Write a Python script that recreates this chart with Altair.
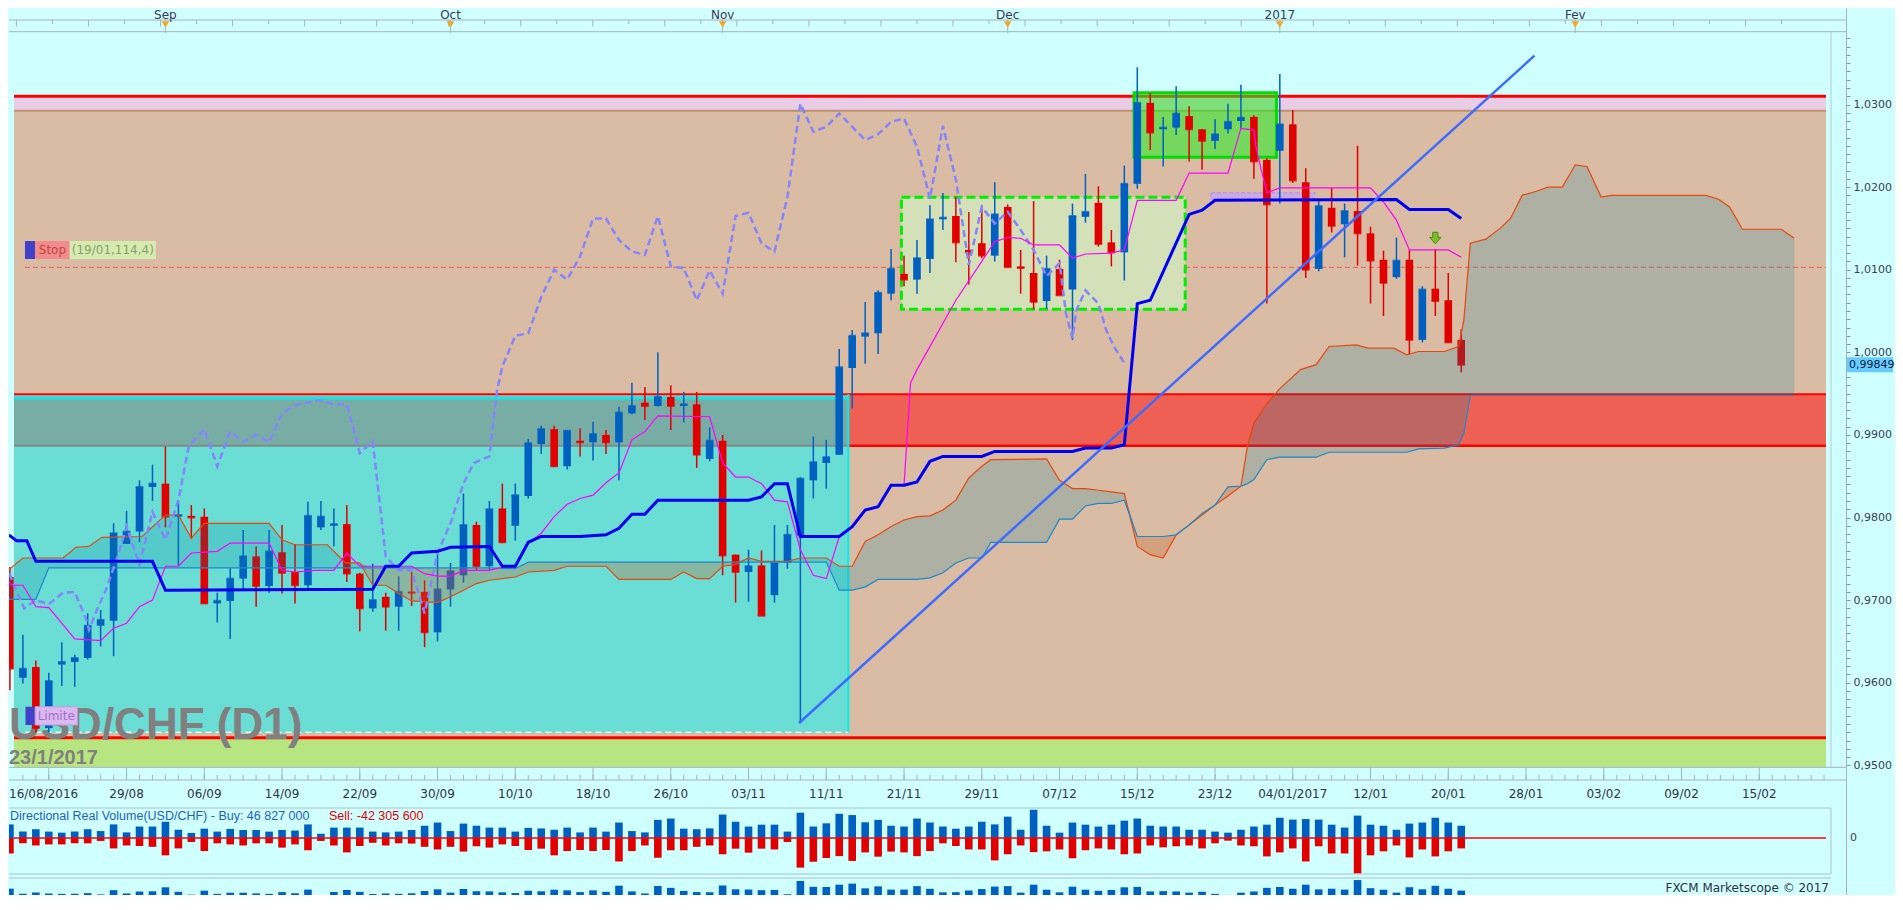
import altair as alt
import pandas as pd

# ---------------- data ----------------
# bar index: 0 = 29/08/2016, one step per trading day, 103 = 23/01/2017
bar_idx = list(range(-9, 104))
opens = [0.9728, 0.9606, 0.9619, 0.9545, 0.9622, 0.9625, 0.9630, 0.9669, 0.9675,
         0.9768, 0.9783, 0.9837, 0.9841, 0.9801, 0.9802, 0.9801, 0.9696, 0.9699, 0.9726,
         0.9753, 0.9717, 0.9758, 0.9734, 0.9718, 0.9788, 0.9790, 0.9792, 0.9732, 0.9690,
         0.9704, 0.9692, 0.9710, 0.9710, 0.9661, 0.9713, 0.9730, 0.9791, 0.9741, 0.9811,
         0.9790, 0.9826, 0.9889, 0.9907, 0.9862, 0.9893, 0.9891, 0.9900, 0.9891, 0.9926,
         0.9939, 0.9935, 0.9946, 0.9935, 0.9937, 0.9871, 0.9893, 0.9755, 0.9734, 0.9742,
         0.9706, 0.9745, 0.9778, 0.9845, 0.9866, 0.9876, 0.9981, 1.0019, 1.0023, 1.0071,
         1.0095, 1.0088, 1.0113, 1.0161, 1.0165, 1.0124, 1.0132, 1.0117, 1.0176, 1.0104,
         1.0096, 1.0062, 1.0101, 1.0076, 1.0164, 1.0181, 1.0133, 1.0121, 1.0204, 1.0302,
         1.0270, 1.0272, 1.0286, 1.0270, 1.0256, 1.0270, 1.0280, 1.0285, 1.0233, 1.0244,
         1.0276, 1.0206, 1.0101, 1.0175, 1.0155, 1.0171, 1.0144, 1.0112, 1.0091, 1.0112,
         1.0015, 1.0077, 1.0063, 1.0015]
highs = [0.9740, 0.9658, 0.9627, 0.9612, 0.9649, 0.9634, 0.9684, 0.9688, 0.9793,
         0.9808, 0.9845, 0.9864, 0.9886, 0.9820, 0.9815, 0.9811, 0.9709, 0.9739, 0.9785,
         0.9765, 0.9785, 0.9791, 0.9768, 0.9819, 0.9820, 0.9811, 0.9815, 0.9733, 0.9744,
         0.9709, 0.9729, 0.9736, 0.9724, 0.9757, 0.9745, 0.9829, 0.9795, 0.9820, 0.9841,
         0.9841, 0.9895, 0.9911, 0.9911, 0.9906, 0.9908, 0.9916, 0.9906, 0.9934, 0.9963,
         0.9958, 1.0000, 0.9960, 0.9952, 0.9952, 0.9909, 0.9900, 0.9755, 0.9761, 0.9760,
         0.9791, 0.9791, 0.9849, 0.9898, 0.9894, 1.0004, 1.0027, 1.0061, 1.0075, 1.0125,
         1.0117, 1.0136, 1.0178, 1.0193, 1.0188, 1.0170, 1.0178, 1.0206, 1.0179, 1.0124,
         1.0183, 1.0117, 1.0112, 1.0180, 1.0216, 1.0201, 1.0148, 1.0226, 1.0345, 1.0314,
         1.0285, 1.0322, 1.0298, 1.0270, 1.0282, 1.0301, 1.0324, 1.0287, 1.0235, 1.0337,
         1.0293, 1.0223, 1.0184, 1.0199, 1.0180, 1.0250, 1.0152, 1.0123, 1.0139, 1.0124,
         1.0080, 1.0125, 1.0096, 1.0028]
lows = [0.9591, 0.9599, 0.9540, 0.9540, 0.9596, 0.9595, 0.9628, 0.9644, 0.9632,
        0.9768, 0.9770, 0.9820, 0.9788, 0.9742, 0.9774, 0.9696, 0.9673, 0.9653, 0.9713,
        0.9692, 0.9709, 0.9708, 0.9696, 0.9713, 0.9785, 0.9765, 0.9722, 0.9662, 0.9686,
        0.9663, 0.9663, 0.9693, 0.9643, 0.9650, 0.9692, 0.9721, 0.9736, 0.9736, 0.9769,
        0.9772, 0.9823, 0.9877, 0.9861, 0.9858, 0.9874, 0.9869, 0.9877, 0.9845, 0.9925,
        0.9918, 0.9934, 0.9906, 0.9915, 0.9860, 0.9868, 0.9730, 0.9697, 0.9698, 0.9681,
        0.9697, 0.9738, 0.9552, 0.9823, 0.9835, 0.9876, 0.9932, 0.9986, 0.9998, 1.0063,
        1.0080, 1.0071, 1.0096, 1.0148, 1.0109, 1.0082, 1.0114, 1.0110, 1.0103, 1.0071,
        1.0052, 1.0052, 1.0069, 1.0015, 1.0157, 1.0128, 1.0104, 1.0087, 1.0198, 1.0245,
        1.0225, 1.0263, 1.0231, 1.0221, 1.0246, 1.0265, 1.0271, 1.0210, 1.0059, 1.0180,
        1.0205, 1.0090, 1.0098, 1.0145, 1.0115, 1.0105, 1.0059, 1.0044, 1.0089, 0.9998,
        1.0012, 1.0044, 1.0012, 0.9976]
closes = [0.9617, 0.9617, 0.9545, 0.9602, 0.9625, 0.9630, 0.9669, 0.9676, 0.9781,
          0.9783, 0.9837, 0.9841, 0.9801, 0.9803, 0.9800, 0.9696, 0.9699, 0.9726, 0.9753,
          0.9717, 0.9759, 0.9733, 0.9718, 0.9802, 0.9801, 0.9792, 0.9732, 0.9690, 0.9700,
          0.9692, 0.9710, 0.9709, 0.9661, 0.9713, 0.9735, 0.9791, 0.9741, 0.9810, 0.9770,
          0.9827, 0.9890, 0.9907, 0.9862, 0.9905, 0.9891, 0.9901, 0.9891, 0.9927, 0.9935,
          0.9935, 0.9946, 0.9935, 0.9937, 0.9876, 0.9893, 0.9754, 0.9734, 0.9741, 0.9681,
          0.9745, 0.9779, 0.9847, 0.9867, 0.9873, 0.9982, 1.0020, 1.0023, 1.0072, 1.0101,
          1.0088, 1.0114, 1.0161, 1.0163, 1.0133, 1.0121, 1.0117, 1.0167, 1.0103, 1.0102,
          1.0061, 1.0101, 1.0069, 1.0165, 1.0170, 1.0131, 1.0121, 1.0204, 1.0302, 1.0266,
          1.0272, 1.0289, 1.0270, 1.0256, 1.0264, 1.0279, 1.0284, 1.0231, 1.0179, 1.0276,
          1.0208, 1.0100, 1.0177, 1.0153, 1.0171, 1.0144, 1.0111, 1.0084, 1.0111, 1.0015,
          1.0076, 1.0062, 1.0012, 0.99849]

# directional real volume, millions (buy up, sell down)
buy_vol = [51, 24, 33, 24, 20, 24, 33, 26, 51,
           21, 43, 43, 61, 31, 19, 35, 24, 34, 30,
           30, 24, 30, 28, 51, 16, 39, 39, 39, 24,
           21, 24, 30, 46, 58, 26, 54, 46, 39, 39,
           24, 38, 36, 31, 39, 21, 39, 24, 58, 26,
           21, 68, 73, 35, 33, 36, 88, 61, 43, 50,
           50, 24, 95, 43, 55, 91, 86, 59, 68, 46,
           43, 73, 58, 43, 35, 43, 61, 51, 80, 31,
           106, 46, 20, 58, 50, 43, 50, 65, 73, 46,
           43, 43, 31, 31, 24, 20, 31, 43, 50, 76,
           69, 71, 69, 50, 39, 84, 50, 46, 31, 54,
           58, 76, 58, 46]
sell_vol = [-58, -20, -28, -24, -24, -20, -20, -11, -39,
            -28, -30, -33, -65, -39, -15, -49, -20, -24, -28,
            -20, -20, -36, -24, -46, -11, -28, -54, -30, -18,
            -28, -20, -21, -33, -43, -33, -51, -31, -36, -24,
            -30, -45, -40, -65, -49, -45, -49, -45, -88, -49,
            -28, -74, -46, -46, -33, -28, -61, -40, -55, -40,
            -43, -15, -111, -89, -75, -68, -86, -54, -70, -51,
            -54, -68, -49, -20, -30, -43, -43, -84, -61, -28,
            -53, -50, -43, -76, -46, -39, -43, -61, -58, -28,
            -35, -31, -28, -39, -20, -10, -28, -31, -69, -54,
            -39, -88, -31, -58, -58, -133, -65, -50, -28, -73,
            -43, -69, -50, -39]

# Ichimoku, vertices (bar index, price)
tenkan_i = [-9.3, -8.9, -8, -7, -6, -4, -2, -1, 0, 1, 2, 3, 4, 5, 7, 8, 11, 12, 13, 14.5,
            16, 17, 18, 22, 23, 24, 25, 26, 28, 29, 30, 31, 32, 33, 34, 35, 36, 37, 38, 39,
            40, 41, 45, 46, 47, 48, 49, 50, 51, 52, 53, 54, 55, 56, 57, 58, 59, 60, 60.5, 61,
            64, 66, 67, 68, 69, 70, 72, 73, 74, 76, 77, 78, 81, 82, 85, 86, 87, 87.2, 88, 89,
            96, 97, 98, 99, 102, 103]
tenkan_p = [0.9728, 0.9718, 0.9718, 0.9692, 0.9691, 0.9653, 0.9651, 0.9666, 0.9672, 0.9692,
            0.9700, 0.9741, 0.9741, 0.9757, 0.9759, 0.9769, 0.9769, 0.9736, 0.9734, 0.9736,
            0.9736, 0.9757, 0.9741, 0.9741, 0.9732, 0.9729, 0.9729, 0.9736, 0.9736, 0.9740,
            0.9740, 0.9769, 0.9781, 0.9801, 0.9816, 0.9823, 0.9827, 0.9842, 0.9854, 0.9894,
            0.9904, 0.9923, 0.9922, 0.9866, 0.9849, 0.9849, 0.9841, 0.9821, 0.9819, 0.9761,
            0.9730, 0.9726, 0.9777, 0.9789, 0.9809, 0.9813, 0.9839, 0.9839, 0.9963, 0.9979,
            1.0063, 1.0110, 1.0134, 1.0139, 1.0138, 1.0130, 1.0130, 1.0114, 1.0119, 1.0120,
            1.0124, 1.0184, 1.0184, 1.0217, 1.0217, 1.0271, 1.0269, 1.0245, 1.0193, 1.0199,
            1.0199, 1.0182, 1.0160, 1.0124, 1.0124, 1.0115]
kijun_i = [-9.3, -9, -8.5, -7.7, -7, 2, 3, 19, 20, 21, 22, 24, 25, 28, 29, 30, 31, 32, 35, 37,
           38, 39, 40, 41, 48, 49, 50, 51, 52, 55, 56, 57, 58, 59, 60, 61, 62, 63, 66, 67,
           73, 74, 76, 77, 78, 79, 82, 83, 84, 98, 99, 102, 103]
kijun_p = [0.9778, 0.9778, 0.9772, 0.9772, 0.9747, 0.9747, 0.9712, 0.9713, 0.9741, 0.9741,
           0.9757, 0.9759, 0.9764, 0.9765, 0.9741, 0.9741, 0.9770, 0.9777, 0.9777, 0.9779,
           0.9787, 0.9804, 0.9804, 0.9821, 0.9821, 0.9825, 0.9841, 0.9841, 0.9777, 0.9777,
           0.9789, 0.9809, 0.9813, 0.9839, 0.9839, 0.9843, 0.9868, 0.9874, 0.9874, 0.9880,
           0.9880, 0.9884, 0.9884, 0.9888, 1.0059, 1.0063, 1.0167, 1.0172, 1.0184, 1.0185,
           1.0173, 1.0173, 1.0162]
chikou_i = [-9.3, -8.8, -7.9, -7, -6, -4.9, -4, -3.1, -2.9, -2.4, -1.6, -0.6, 0, 1, 2, 3, 4,
            4.8, 6, 7, 8, 9, 10, 11, 12, 13, 14.8, 16, 17, 18, 19, 20, 21, 22, 23, 24, 25,
            26, 26.8, 28, 28.6, 29, 30, 31, 32, 33, 34, 35, 36, 37, 38, 39, 40, 41, 42, 43,
            44, 45, 46, 47, 48, 49, 50, 51, 52, 53, 54, 55, 57, 58, 59, 60, 61, 62, 63, 64,
            65, 66, 67, 68, 69, 70, 71, 72, 72.5, 73, 73.3, 74, 75, 75.6, 76.2, 77]
chikou_p = [0.9745, 0.9722, 0.9690, 0.9700, 0.9695, 0.9709, 0.9710, 0.9676, 0.9664, 0.9684,
            0.9712, 0.9757, 0.9789, 0.9743, 0.9807, 0.9773, 0.9821, 0.9886, 0.9907, 0.9862,
            0.9904, 0.9892, 0.9900, 0.9891, 0.9926, 0.9936, 0.9942, 0.9937, 0.9937, 0.9878,
            0.9892, 0.9753, 0.9736, 0.9736, 0.9684, 0.9757, 0.9793, 0.9841, 0.9866, 0.9874,
            0.9954, 0.9983, 1.0020, 1.0023, 1.0067, 1.0100, 1.0088, 1.0116, 1.0162, 1.0162,
            1.0136, 1.0122, 1.0118, 1.0165, 1.0104, 1.0102, 1.0063, 1.0099, 1.0071, 1.0165,
            1.0169, 1.0132, 1.0122, 1.0188, 1.0301, 1.0267, 1.0273, 1.0289, 1.0257, 1.0264,
            1.0279, 1.0283, 1.0249, 1.0186, 1.0274, 1.0209, 1.0106, 1.0176, 1.0156, 1.0170,
            1.0148, 1.0124, 1.0092, 1.0108, 1.0047, 1.0017, 1.0051, 1.0075, 1.0059, 1.0027,
            1.0007, 0.9987]
cloud_i = [-9.3, -8, -7, -6, -4.9, -3.9, -2.9, -1.9, 1.2, 3, 4, 5, 6, 11, 12, 13, 15.5, 16.9,
           18, 19, 20, 21, 22, 24, 25, 26, 27, 28, 30, 31, 33, 34, 37, 38, 42, 43, 44, 45,
           46, 47, 48, 49, 51, 52, 54, 55, 56, 57, 58, 59, 60, 61, 62, 63, 64, 65, 66, 66.7,
           71, 72, 73, 74, 75, 76, 77, 78, 79, 80, 81, 82, 83, 84, 85, 86, 86.5, 87, 88, 89,
           90.6, 91.8, 92.8, 94.9, 95.8, 97.8, 98.8, 99.7, 101.7, 102.8, 103.2, 103.7, 104.9,
           106, 106.8, 107.7, 108.8, 109.7, 110.8, 111.8, 112.7, 113.8, 114.6, 121.9, 122.9,
           123.7, 124.7, 127.7, 128.7]
span_a = [0.9734, 0.9751, 0.9751, 0.9751, 0.9751, 0.9764, 0.9765, 0.9776, 0.9777, 0.9803,
          0.9803, 0.9775, 0.9793, 0.9793, 0.9773, 0.9767, 0.9767, 0.9745, 0.9745, 0.9718,
          0.9718, 0.9708, 0.9699, 0.9697, 0.9704, 0.9712, 0.9720, 0.9724, 0.9728, 0.9734,
          0.9736, 0.9741, 0.9741, 0.9725, 0.9725, 0.9734, 0.9726, 0.9726, 0.9741, 0.9743,
          0.9751, 0.9747, 0.9747, 0.9751, 0.9751, 0.9741, 0.9741, 0.9771, 0.9779, 0.9789,
          0.9797, 0.9801, 0.9802, 0.9809, 0.9821, 0.9848, 0.9862, 0.9870, 0.9871, 0.9845,
          0.9835, 0.9835, 0.9833, 0.9831, 0.9829, 0.9765, 0.9755, 0.9751, 0.9779, 0.9791,
          0.9803, 0.9815, 0.9826, 0.9838, 0.9886, 0.9914, 0.9938, 0.9956, 0.9979, 0.9985,
          1.0007, 1.0009, 1.0005, 1.0005, 0.9997, 1.0001, 1.0001, 1.0007, 1.0039, 1.0132,
          1.0137, 1.0150, 1.0162, 1.0190, 1.0195, 1.0200, 1.0200, 1.0227, 1.0225, 1.0188,
          1.0190, 1.0190, 1.0185, 1.0176, 1.0149, 1.0149, 1.0138]
span_b = [0.9701, 0.9701, 0.9701, 0.9739, 0.9739, 0.9739, 0.9739, 0.9739, 0.9739, 0.9739,
          0.9739, 0.9739, 0.9739, 0.9739, 0.9739, 0.9739, 0.9739, 0.9739, 0.9739, 0.9739,
          0.9739, 0.9739, 0.9739, 0.9739, 0.9739, 0.9739, 0.9739, 0.9739, 0.9738, 0.9746,
          0.9746, 0.9746, 0.9746, 0.9746, 0.9746, 0.9746, 0.9746, 0.9746, 0.9746, 0.9746,
          0.9746, 0.9746, 0.9746, 0.9746, 0.9746, 0.9712, 0.9712, 0.9716, 0.9725, 0.9725,
          0.9725, 0.9725, 0.9727, 0.9733, 0.9745, 0.9751, 0.9751, 0.9770, 0.9770, 0.9798,
          0.9798, 0.9814, 0.9817, 0.9817, 0.9821, 0.9777, 0.9777, 0.9777, 0.9779, 0.9791,
          0.9805, 0.9815, 0.9837, 0.9838, 0.9841, 0.9846, 0.9870, 0.9873, 0.9873, 0.9873,
          0.9879, 0.9879, 0.9879, 0.9879, 0.9879, 0.9883, 0.9884, 0.9888, 0.9902, 0.9948,
          0.9948, 0.9948, 0.9948, 0.9948, 0.9948, 0.9948, 0.9948, 0.9948, 0.9948, 0.9948,
          0.9948, 0.9948, 0.9948, 0.9948, 0.9948, 0.9948, 0.9948]

# trend line drawn on the chart
trend_i = [51.9, 108.65]
trend_p = [0.95512, 1.03591]

# horizontal levels / zones
resist_top, resist_base = 1.0310, 1.02925
support_line, support_low = 0.95334, 0.94976
red_zone = (0.98869, 0.99491)
cyan_box = (0.95395, 0.99491)
stop_level, limit_level = 1.01029, 0.9540
dec_box = (77.75, 88.74, 1.02361, 1.03143)
nov_box = (59.8, 81.7, 1.00521, 1.01877)
last_price = 0.99849

date_idx = [0, 6, 12, 18, 24, 30, 36, 42, 48, 54, 60, 66, 72, 78, 84, 90, 96, 102, 108, 114, 120, 126]
date_txt = ['29/08', '06/09', '14/09', '22/09', '30/09', '10/10', '18/10', '26/10', '03/11', '11/11',
            '21/11', '29/11', '07/12', '15/12', '23/12', '04/01/2017', '12/01', '20/01', '28/01',
            '03/02', '09/02', '15/02']
month_idx = [3, 25, 46, 68, 89, 111.8]
month_txt = ['Sep', 'Oct', 'Nov', 'Dec', '2017', 'Fev']

# ---------------- layout / styles ----------------
W, H = 1822, 887
X0, X1 = -8.686, 131.15
BLUE, RED = '#0060C0', '#E00000'
FONT = 'DejaVu Sans'
X = alt.Scale(domain=[X0, X1], nice=False, zero=False)
PY = alt.Scale(domain=[0.934298, 1.041683], nice=False, zero=False)
VY = alt.Scale(domain=[-213.75, 3112.5], nice=False, zero=False)
TY = alt.Scale(domain=[29.5, 11144.5], nice=False, zero=False, clamp=True)

price_ticks = [round(0.950 + 0.001 * k, 3) for k in range(89)]
PAXIS = alt.Axis(orient='right', offset=15, values=price_ticks, title=None, grid=False,
                 labelExpr="(abs(datum.value*100 - round(datum.value*100)) < 0.001 && datum.value < 1.035) ? replace(format(datum.value, '.4f'), '.', ',') : ''",
                 tickSize=4, tickColor='#8890A0', domainColor='#A8B0C0', labelFont=FONT,
                 labelFontSize=11, labelColor='#404050', labelOverlap=False, labelPadding=3)


def xq(f):
    return alt.X(f, type='quantitative', scale=X, axis=None)


def yp(f):
    return alt.Y(f, type='quantitative', scale=PY, axis=PAXIS)


def one(**cols):
    return pd.DataFrame({k: [v] for k, v in cols.items()})


def zone(x0, x1, lo, hi, fill, **kw):
    return alt.Chart(one(x0=x0, x1=x1, lo=lo, hi=hi)).mark_rect(fill=fill, **kw).encode(
        x=xq('x0'), x2='x1', y=yp('hi'), y2='lo')


def hline(v, x0, x1, color, width, **kw):
    return alt.Chart(one(x0=x0, x1=x1, v=v)).mark_rule(color=color, strokeWidth=width, **kw).encode(
        x=xq('x0'), x2='x1', y=yp('v'))


def ptext(txt, x, y, **kw):
    return alt.Chart(one(t=txt)).mark_text(**kw).encode(text='t:N', x=alt.value(x), y=alt.value(y))


def prule(y, x0, x1, color='#A8B0C0', width=1):
    return alt.Chart(one(a=0)).mark_rule(color=color, strokeWidth=width).encode(
        x=alt.value(x0), x2=alt.value(x1), y=alt.value(y))


candles = pd.DataFrame({'i': bar_idx, 'open': opens, 'high': highs, 'low': lows, 'close': closes})
vol = pd.DataFrame({'i': bar_idx, 'buy': buy_vol, 'sell': sell_vol})
cloud = pd.DataFrame({'i': cloud_i, 'a': span_a, 'b': span_b})
up = alt.condition('datum.close >= datum.open', alt.value(BLUE), alt.value(RED))

# ---------------- price panel ----------------
bands = [
    zone(X0, X1, resist_base, resist_top, '#E9CCE6'),
    zone(X0, X1, support_line, resist_base, '#D9BCA3'),
    zone(X0, X1, support_low, support_line, '#B7E57F'),
    zone(X0, 55.7, cyan_box[0], cyan_box[1], '#6ADDD5'),
    zone(X0, 55.7, red_zone[0], 0.99462, '#78ADA5'),
    zone(55.7, X1, red_zone[0], red_zone[1], '#EE6054'),
    hline(resist_top, X0, X1, '#FF0000', 3),
    hline(resist_base, X0, X1, '#C0906C', 2),
    hline(support_line, X0, X1, '#FF0000', 3),
    hline(0.99445, X0, 55.7, '#00F0F0', 2),
    hline(red_zone[1], X0, X1, '#FF0000', 2),
    hline(red_zone[0], 55.7, X1, '#FF0000', 2.5),
    hline(red_zone[0], X0, 55.7, '#808A8A', 2),
    alt.Chart(one(x=55.7, lo=cyan_box[0], hi=red_zone[1])).mark_rule(color='#00F0F0', strokeWidth=2).encode(
        x=xq('x'), y=yp('lo'), y2='hi'),
    hline(limit_level, -7.8, 55.7, '#E6F6F6', 1.5, strokeDash=[6, 4]),
    hline(stop_level, -7.84, X1, '#F05A5A', 1, strokeDash=[5, 3]),
    ptext('USD/CHF (D1)', 0, 731, font='Liberation Sans', fontSize=44, fontWeight='bold',
          color='#808080', align='left', baseline='alphabetic'),
    ptext('23/1/2017', 0, 756, font='Liberation Sans', fontSize=20, fontWeight='bold',
          color='#808080', align='left', baseline='alphabetic'),
    zone(nov_box[0], nov_box[1], nov_box[2], nov_box[3], '#D3E0B8', stroke='#00EE00',
         strokeWidth=3, strokeDash=[9, 4]),
    zone(dec_box[0], dec_box[1], dec_box[2], dec_box[3], '#22EE22', fillOpacity=0.55,
         stroke='#00DD00', strokeWidth=3),
    zone(83.7, 91.7, 1.01853, 1.01932, '#C8A8F0', fillOpacity=0.85, stroke='#B898E8',
         strokeWidth=1.5, strokeDash=[4, 2]),
]

wicks = alt.Chart(candles).mark_rule(strokeWidth=1.5, clip=True).encode(
    x=xq('i'), y=yp('low'), y2='high', color=up)
bodies = alt.Chart(candles).mark_bar(size=7.6, clip=True).encode(
    x=xq('i'), y=yp('open'), y2='close', color=up)
closes_tick = alt.Chart(candles).mark_tick(orient='horizontal', size=7.6, thickness=2, clip=True).encode(
    x=xq('i'), y=yp('close'), color=up)

bull = alt.Chart(cloud).transform_calculate(hi='max(datum.a, datum.b)').mark_area(
    color='#00849F', opacity=0.2, clip=True).encode(x=xq('i'), y=yp('hi:Q'), y2='b')
bear = alt.Chart(cloud).transform_calculate(hi='max(datum.a, datum.b)').mark_area(
    color='#CB5F2C', opacity=0.3, clip=True).encode(x=xq('i'), y=yp('hi:Q'), y2='a')
line_a = alt.Chart(cloud).mark_line(color='#E34A10', strokeWidth=1.2, clip=True).encode(
    x=xq('i'), y=yp('a'))
line_b = alt.Chart(cloud).mark_line(color='#1E88C8', strokeWidth=1.2, clip=True).encode(
    x=xq('i'), y=yp('b'))


def ichi(xs, ys, **kw):
    return alt.Chart(pd.DataFrame({'i': xs, 'p': ys})).mark_line(clip=True, **kw).encode(
        x=xq('i'), y=yp('p'))


chikou = ichi(chikou_i, chikou_p, color='#8585FF', strokeWidth=2.5, strokeDash=[7, 4])
tenkan = ichi(tenkan_i, tenkan_p, color='#FF00FF', strokeWidth=1.2)
kijun = ichi(kijun_i, kijun_p, color='#0000F0', strokeWidth=3)
trend = ichi(trend_i, trend_p, color='#3D6BFF', strokeWidth=2.5)

labels = [
    zone(-7.84, -7.05, 1.01129, 1.01347, '#4040C8'),
    zone(-7.05, -4.39, 1.01129, 1.01347, '#F38B8B'),
    zone(-4.39, 2.26, 1.01129, 1.01347, '#D5EBB0'),
    alt.Chart(one(x=-5.72, y=1.01238, t='Stop')).mark_text(font=FONT, fontSize=12, color='#C04848').encode(
        x=xq('x'), y=yp('y'), text='t:N'),
    alt.Chart(one(x=-1.06, y=1.01238, t='(19/01,114,4)')).mark_text(font=FONT, fontSize=12, color='#8AA070').encode(
        x=xq('x'), y=yp('y'), text='t:N'),
    zone(-7.8, -7.05, 0.95488, 0.95709, '#4040C8'),
    zone(-7.05, -3.8, 0.95488, 0.95709, '#DCB8F0', stroke='#C0A0E0', strokeWidth=1),
    alt.Chart(one(x=-5.43, y=0.95598, t='Limite')).mark_text(font=FONT, fontSize=12, color='#A070C8').encode(
        x=xq('x'), y=yp('y'), text='t:N'),
    alt.Chart(one(x=101, y=1.01384)).mark_point(
        shape='M-0.45,-1L0.45,-1L0.45,-0.1L1,-0.1L0,1L-1,-0.1L-0.45,-0.1Z', size=130, filled=True,
        fill='#7CC02A', stroke='#4A8A10', strokeWidth=1, opacity=1).encode(x=xq('x'), y=yp('y')),
    alt.Chart(one(p1=last_price + 0.0009, p0=last_price - 0.0009)).mark_rect(fill='#66CCFF').encode(
        x=alt.value(1838), x2=alt.value(1884), y=yp('p1'), y2='p0'),
    alt.Chart(one(p=last_price, t='0,99849')).mark_text(font=FONT, fontSize=11, color='#102040',
                                                        align='left').encode(
        x=alt.value(1840), y=yp('p'), text='t:N'),
]

price = alt.layer(*bands, wicks, bodies, closes_tick, bull, bear, line_a, line_b,
                  chikou, tenkan, kijun, trend, *labels)

# ---------------- volume panels ----------------
buy_bars = alt.Chart(vol).mark_bar(size=7.6, color=BLUE, clip=True).encode(
    x=xq('i'), y=alt.Y('buy:Q', scale=VY, axis=None), y2=alt.datum(0))
sell_bars = alt.Chart(vol).mark_bar(size=7.6, color=RED, clip=True).encode(
    x=xq('i'), y=alt.Y('sell:Q', scale=VY, axis=None), y2=alt.datum(0))
zero = alt.Chart(one(x0=X0, x1=X1, v=0)).mark_rule(color='#FF0000', strokeWidth=1.5).encode(
    x=xq('x0'), x2='x1', y=alt.Y('v:Q', scale=VY, axis=None))
volume = alt.layer(buy_bars, sell_bars, zero)

total = alt.Chart(vol).transform_calculate(tot='datum.buy - datum.sell').mark_bar(
    size=7.6, color=BLUE, clip=True).encode(
    x=xq('i'), y=alt.Y('tot:Q', scale=TY, axis=None), y2=alt.datum(29.5))

# ---------------- decorations (header, date axis, panel frames) ----------------
hdr_ticks = [round(-8.5 + 2.78 * k, 2) for k in range(50)]
bars_all = list(range(-8, 132))
major = [-6] + date_idx

deco = [
    prule(12, 0, 1837), prule(23.7, 0, 1837),
    alt.Chart(pd.DataFrame({'i': hdr_ticks[::2]})).mark_rule(color='#A8B0C0').encode(
        x=xq('i'), y=alt.value(12), y2=alt.value(18.5)),
    alt.Chart(pd.DataFrame({'i': hdr_ticks[1::2]})).mark_rule(color='#A8B0C0').encode(
        x=xq('i'), y=alt.value(12), y2=alt.value(16)),
    alt.Chart(pd.DataFrame({'i': month_idx})).mark_rule(color='#A8B0C0').encode(
        x=xq('i'), y=alt.value(12), y2=alt.value(25)),
    alt.Chart(pd.DataFrame({'i': month_idx})).mark_point(
        shape='triangle-down', filled=True, size=60, color='#F5A623', opacity=1).encode(
        x=xq('i'), y=alt.value(16.5)),
    alt.Chart(pd.DataFrame({'i': month_idx, 't': month_txt})).mark_text(
        font=FONT, fontSize=12, color='#3A3A55').encode(x=xq('i'), y=alt.value(6.5), text='t:N'),
    alt.Chart(one(a=0)).mark_rule(color='#B8C8D0').encode(
        x=alt.value(W), y=alt.value(23.7), y2=alt.value(759.3)),
    # date axis
    prule(759.3, 0, 1837), prule(772, 0, 1837),
    alt.Chart(pd.DataFrame({'i': major})).mark_rule(color='#A8B0C0').encode(
        x=xq('i'), y=alt.value(759.3), y2=alt.value(772)),
    alt.Chart(pd.DataFrame({'i': bars_all})).mark_rule(color='#A8B0C0').encode(
        x=xq('i'), y=alt.value(767), y2=alt.value(772)),
    alt.Chart(pd.DataFrame({'i': date_idx, 't': date_txt})).mark_text(
        font=FONT, fontSize=12, color='#333344').encode(x=xq('i'), y=alt.value(786), text='t:N'),
    ptext('16/08/2016', 0, 786, font=FONT, fontSize=12, color='#333344', align='left'),
    # volume frames and texts
    prule(800, 0, W, '#B0C0D0'), prule(866, 0, W, '#B0C0D0'), prule(870, 0, W, '#B0C0D0'),
    alt.Chart(one(a=0)).mark_rule(color='#B0C0D0').encode(
        x=alt.value(W), y=alt.value(800), y2=alt.value(866)),
    ptext('Directional Real Volume(USD/CHF) -  Buy: 46 827 000', 1, 808, font='Liberation Sans',
          fontSize=12.5, color='#1F5FC0', align='left'),
    ptext('Sell: -42 305 600', 320, 808, font='Liberation Sans', fontSize=12.5, color='#E00000',
          align='left'),
    ptext('0', 1841, 830, font=FONT, fontSize=11, color='#404050', align='left'),
    ptext('FXCM Marketscope \u00a9 2017', 1820, 880, font=FONT, fontSize=12, color='#303040',
          align='right'),
]

chart = alt.layer(price, volume, total, *deco).resolve_scale(y='independent').properties(
    width=W, height=H, padding=0
).configure(background='#CFFFFF').configure_view(stroke=None)

chart.save('out.html', embed_options={'renderer': 'svg', 'actions': False})
